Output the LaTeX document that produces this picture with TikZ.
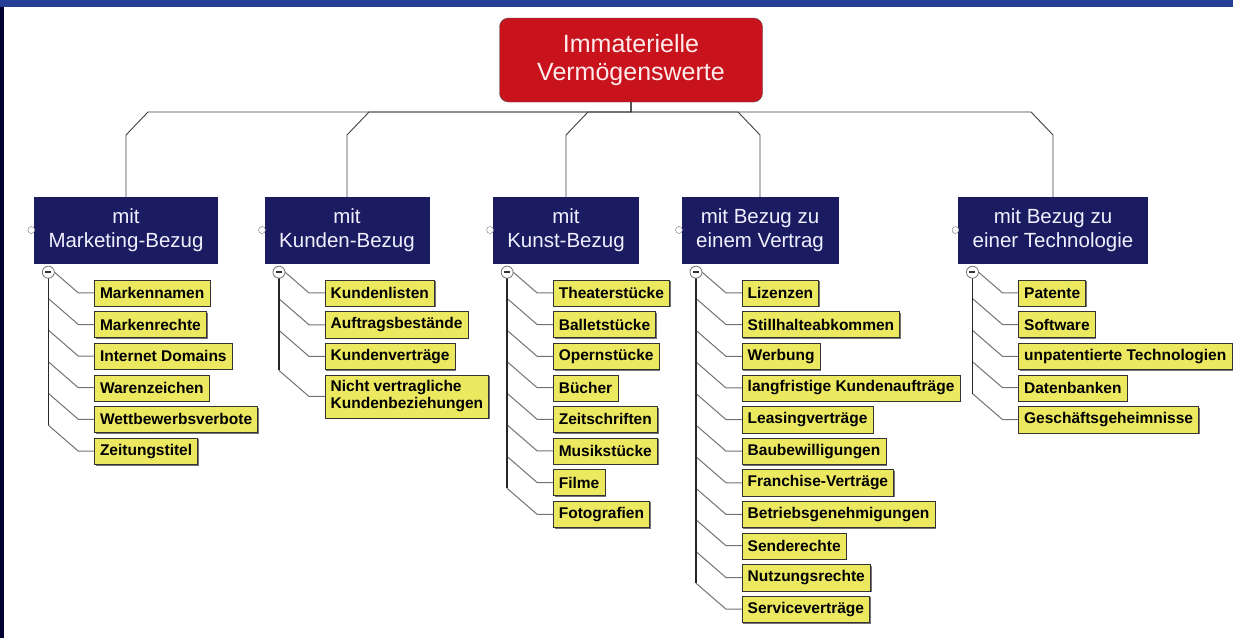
\documentclass[tikz,border=0pt]{standalone}
\usepackage{fontspec}
\setmainfont{Liberation Sans}
\usetikzlibrary{calc,shadows}
\definecolor{bandblau}{RGB}{38,62,150}
\definecolor{kastenblau}{RGB}{27,27,98}
\definecolor{wurzelrot}{RGB}{200,18,28}
\definecolor{blattgelb}{RGB}{236,232,96}

\begin{document}
\begin{tikzpicture}[x=1pt, y=-1pt,
    wurzel/.style={draw=black!70, fill=wurzelrot, rounded corners=9pt, text=red!8, align=center,
      minimum width=263pt, minimum height=84pt, font=\fontsize{25}{28}\selectfont},
    kat/.style={draw=kastenblau, fill=kastenblau, text=blue!6, align=center, inner xsep=14pt,
      minimum height=66pt, font=\fontsize{20.5}{24}\selectfont},
    blatt/.style={draw=black!80, fill=blattgelb, anchor=north west, align=left, inner xsep=5.5pt,
      inner ysep=6pt, minimum height=26pt, font=\bfseries\fontsize{15.5}{17}\selectfont,
      drop shadow={shadow xshift=1.2pt, shadow yshift=-1.2pt, fill=black!55, opacity=1}},
    linie/.style={draw=black!75, line width=0.9pt},
    ast/.style={draw=black!55, line width=1pt},
    stamm/.style={draw=black!85, line width=1.4pt},
    knopf/.style={circle, draw=black!55, fill=white, inner sep=0pt, minimum size=7pt},
    minus/.style={circle, draw=black!55, fill=white, line width=0.8pt, inner sep=0pt, minimum size=12pt,
      path picture={\draw[line width=1.6pt, black!80] ([xshift=3pt]path picture bounding box.west)
        -- ([xshift=-3pt]path picture bounding box.east);}}]

    % Rahmen
    \useasboundingbox (0,0) rectangle (1233,637);
    \fill[white] (-6,-6) rectangle (1240,644);
    \fill[bandblau] (-6,-6) rectangle (1240,7);
    \fill[black!80!blue] (-6,7) rectangle (4,644);

    % Wurzel
    \node[wurzel] (wurzel) at (631,60) {Immaterielle\\Vermögenswerte};

    % Kategorien
    \node[kat] (marketing) at (126,230) {mit\\Marketing-Bezug};
    \node[kat] (kunden) at (347,230) {mit\\Kunden-Bezug};
    \node[kat] (kunst) at (566,230) {mit\\Kunst-Bezug};
    \node[kat] (vertrag) at (760,230) {mit Bezug zu\\einem Vertrag};
    \node[kat] (technik) at (1053,230) {mit Bezug zu\\einer Technologie};
    \foreach \k in {marketing,kunden,kunst,vertrag,technik}
        \node[knopf] at ([xshift=-3pt]\k.west) {};

    % Verbindungen zur Wurzel
    \draw[linie] (wurzel.south) -- (631,112) -- (148,112) -- (marketing.north |- 0,135) -- (marketing.north);
    \draw[linie] (wurzel.south) -- (631,112) -- (369,112) -- (kunden.north |- 0,135) -- (kunden.north);
    \draw[linie] (wurzel.south) -- (631,112) -- (588,112) -- (kunst.north |- 0,135) -- (kunst.north);
    \draw[linie] (wurzel.south) -- (631,112) -- (738,112) -- (vertrag.north |- 0,135) -- (vertrag.north);
    \draw[linie] (wurzel.south) -- (631,112) -- (1031,112) -- (technik.north |- 0,135) -- (technik.north);

    % Marketing-Bezug
    \coordinate (mkst) at ($(marketing.south west)+(14,9)$);
    \foreach \lab [count=\i] in {Markennamen, Markenrechte, Internet Domains, Warenzeichen,
        Wettbewerbsverbote, Zeitungstitel} {
        \node[blatt] (mk\i) at ($(mkst)+(46,{31.6*\i-24.1})$) {\lab};
        \draw[ast] (mk\i.west) -- ++(-16,0) -- ++(-30,-26);
    }
    \draw[stamm] (mkst) -- ($(mkst |- mk6.west)+(0,-26)$);
    \node[minus] at (mkst) {};

    % Kunden-Bezug
    \coordinate (kdst) at ($(kunden.south west)+(14,9)$);
    \foreach \lab [count=\i] in {Kundenlisten, Auftragsbestände, Kundenverträge,
        {Nicht vertragliche\\Kundenbeziehungen}} {
        \node[blatt] (kd\i) at ($(kdst)+(46,{31.6*\i-24.1})$) {\lab};
        \draw[ast] (kd\i.west) -- ++(-16,0) -- ++(-30,-26);
    }
    \draw[stamm] (kdst) -- ($(kdst |- kd4.west)+(0,-26)$);
    \node[minus] at (kdst) {};

    % Kunst-Bezug
    \coordinate (kust) at ($(kunst.south west)+(14,9)$);
    \foreach \lab [count=\i] in {Theaterstücke, Balletstücke, Opernstücke, Bücher, Zeitschriften,
        Musikstücke, Filme, Fotografien} {
        \node[blatt] (ku\i) at ($(kust)+(46,{31.6*\i-24.1})$) {\lab};
        \draw[ast] (ku\i.west) -- ++(-16,0) -- ++(-30,-26);
    }
    \draw[stamm] (kust) -- ($(kust |- ku8.west)+(0,-26)$);
    \node[minus] at (kust) {};

    % Vertrag
    \coordinate (vtst) at ($(vertrag.south west)+(14,9)$);
    \foreach \lab [count=\i] in {Lizenzen, Stillhalteabkommen, Werbung, langfristige Kundenaufträge,
        Leasingverträge, Baubewilligungen, Franchise-Verträge, Betriebsgenehmigungen, Senderechte,
        Nutzungsrechte, Serviceverträge} {
        \node[blatt] (vt\i) at ($(vtst)+(46,{31.6*\i-24.1})$) {\lab};
        \draw[ast] (vt\i.west) -- ++(-16,0) -- ++(-30,-26);
    }
    \draw[stamm] (vtst) -- ($(vtst |- vt11.west)+(0,-26)$);
    \node[minus] at (vtst) {};

    % Technologie
    \coordinate (tcst) at ($(technik.south west)+(14,9)$);
    \foreach \lab [count=\i] in {Patente, Software, unpatentierte Technologien, Datenbanken,
        Geschäftsgeheimnisse} {
        \node[blatt] (tc\i) at ($(tcst)+(46,{31.6*\i-24.1})$) {\lab};
        \draw[ast] (tc\i.west) -- ++(-16,0) -- ++(-30,-26);
    }
    \draw[stamm] (tcst) -- ($(tcst |- tc5.west)+(0,-26)$);
    \node[minus] at (tcst) {};

\end{tikzpicture}
\end{document}
